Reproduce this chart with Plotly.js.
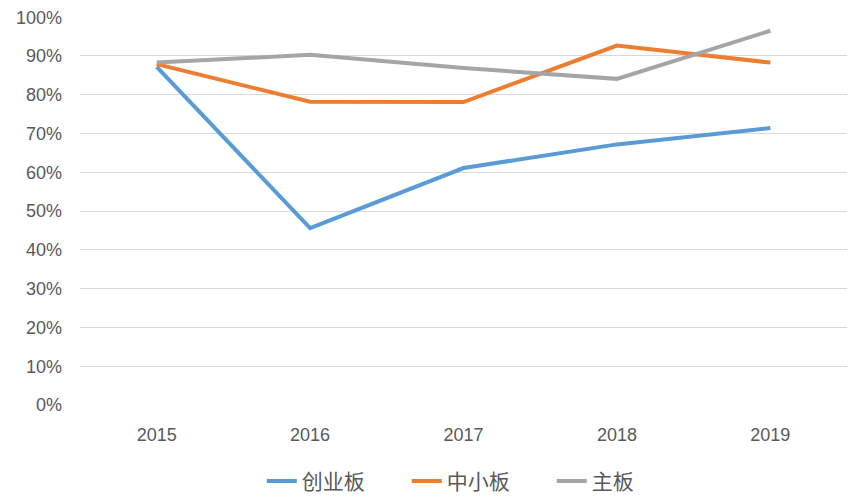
<!DOCTYPE html>
<html>
<head>
<meta charset="utf-8">
<script src="https://cdn.plot.ly/plotly-3.0.1.min.js"></script>
<style>html,body{margin:0;padding:0;background:#fff;}#chart{width:864px;height:504px;}</style>
</head>
<body>
<div id="chart"></div>
<script>
const years = ['2015', '2016', '2017', '2018', '2019'];
const chuangye = [0.872, 0.456, 0.611, 0.672, 0.714];
const zhongxiao = [0.879, 0.782, 0.781, 0.927, 0.883];
const zhuban = [0.883, 0.903, 0.869, 0.841, 0.965];
const seriesNames = ['创业板', '中小板', '主板'];
const colors = ['#5B9BD5', '#ED7D31', '#A5A5A5'];
const seriesData = [chuangye, zhongxiao, zhuban];

const traces = seriesData.map((vals, i) => ({
  x: years,
  y: vals,
  type: 'scatter',
  mode: 'lines',
  name: seriesNames[i],
  line: {color: colors[i], width: 4}
}));

const fontFam = '"Liberation Sans", "Noto Sans CJK SC", sans-serif';
const layout = {
  width: 864,
  height: 504,
  margin: {l: 80, r: 17, t: 17, b: 99},
  paper_bgcolor: '#ffffff',
  plot_bgcolor: '#ffffff',
  showlegend: true,
  font: {family: fontFam, color: '#595959', size: 18},
  xaxis: {
    type: 'category',
    range: [-0.5, 4.5],
    showgrid: false,
    zeroline: false,
    showline: false,
    ticks: '',
    ticklabelstandoff: 17,
    tickfont: {size: 18, color: '#595959'}
  },
  yaxis: {
    range: [0, 1.0005],
    tickvals: [0, 0.1, 0.2, 0.3, 0.4, 0.5, 0.6, 0.7, 0.8, 0.9, 1.0],
    tickformat: '.0%',
    showgrid: true,
    gridcolor: '#D9D9D9',
    gridwidth: 1,
    zeroline: false,
    showline: false,
    ticks: '',
    ticklabelstandoff: 17,
    tickfont: {size: 18, color: '#595959'}
  },
  legend: {
    orientation: 'h',
    xref: 'container',
    yref: 'container',
    x: 0.303,
    xanchor: 'left',
    y: 0.045,
    yanchor: 'middle',
    font: {size: 21, color: '#595959'},
    itemwidth: 30,
    entrywidth: 100,
    entrywidthmode: 'pixels',
    tracegroupgap: 0
  }
};

Plotly.newPlot('chart', traces, layout, {displayModeBar: false, staticPlot: true});
</script>
</body>
</html>
